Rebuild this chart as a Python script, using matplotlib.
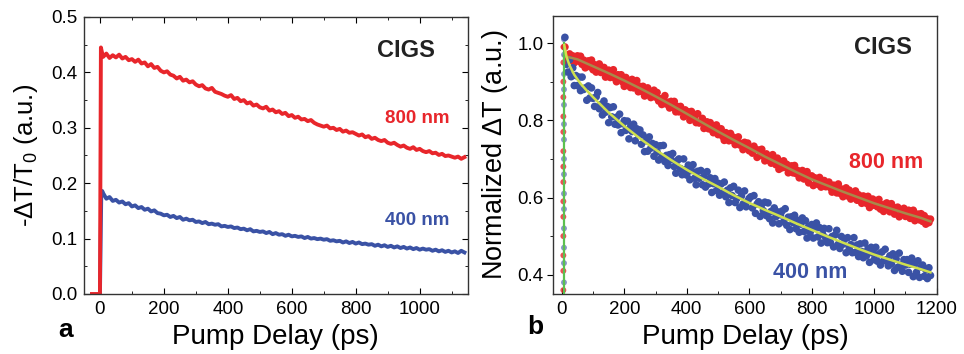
import numpy as np
import matplotlib
matplotlib.use("Agg")
import matplotlib.pyplot as plt
from matplotlib.ticker import MultipleLocator

plt.rcParams['font.family'] = ['Liberation Sans', 'DejaVu Sans']
plt.rcParams['mathtext.fontset'] = 'custom'
plt.rcParams['mathtext.rm'] = 'Liberation Sans'
plt.rcParams['mathtext.it'] = 'Liberation Sans'

RED = '#e8262b'
BLUE = '#3a52a5'

# ---------------- panel a: raw transient transmission ----------------
a_step = 10
a_start = 10
a_rise_time_800 = [-25, -15, -5, 0, 3, 6]
a_rise_800 = [0.0, 0.0, 0.0, 0.0, 0.445, 0.437]
a_sig_800 = [0.428, 0.434, 0.426, 0.431, 0.427, 0.432, 0.425, 0.428, 0.422, 0.424,
             0.419, 0.423, 0.416, 0.418, 0.411, 0.415, 0.408, 0.410, 0.403, 0.400,
             0.402, 0.396, 0.394, 0.389, 0.392, 0.385, 0.387, 0.382, 0.384, 0.378,
             0.375, 0.377, 0.371, 0.369, 0.372, 0.365, 0.363, 0.361, 0.358, 0.356,
             0.359, 0.352, 0.354, 0.348, 0.350, 0.344, 0.346, 0.340, 0.342, 0.337,
             0.335, 0.338, 0.331, 0.333, 0.328, 0.330, 0.325, 0.327, 0.321, 0.323,
             0.318, 0.320, 0.315, 0.316, 0.312, 0.314, 0.309, 0.306, 0.304, 0.302,
             0.304, 0.299, 0.300, 0.296, 0.298, 0.293, 0.295, 0.291, 0.292, 0.289,
             0.286, 0.288, 0.283, 0.285, 0.280, 0.282, 0.278, 0.276, 0.278, 0.273,
             0.271, 0.273, 0.269, 0.266, 0.268, 0.264, 0.262, 0.265, 0.260, 0.262,
             0.258, 0.256, 0.258, 0.254, 0.255, 0.251, 0.253, 0.249, 0.250, 0.248,
             0.246, 0.248, 0.244, 0.247]

a_rise_time_400 = [0, 4, 7]
a_rise_400 = [0.0, 0.175, 0.186]
a_sig_400 = [0.182, 0.172, 0.175, 0.168, 0.170, 0.165, 0.167, 0.162, 0.164, 0.158,
             0.160, 0.155, 0.157, 0.152, 0.154, 0.149, 0.151, 0.146, 0.145, 0.142,
             0.143, 0.139, 0.141, 0.137, 0.139, 0.134, 0.136, 0.133, 0.134, 0.130,
             0.131, 0.128, 0.130, 0.126, 0.127, 0.125, 0.126, 0.122, 0.123, 0.121,
             0.122, 0.119, 0.120, 0.117, 0.118, 0.115, 0.117, 0.113, 0.114, 0.112,
             0.113, 0.110, 0.112, 0.108, 0.110, 0.107, 0.108, 0.105, 0.107, 0.104,
             0.105, 0.103, 0.104, 0.101, 0.103, 0.100, 0.101, 0.099, 0.100, 0.098,
             0.099, 0.096, 0.097, 0.095, 0.096, 0.093, 0.095, 0.092, 0.094, 0.091,
             0.093, 0.090, 0.091, 0.089, 0.090, 0.087, 0.089, 0.086, 0.088, 0.085,
             0.087, 0.084, 0.086, 0.083, 0.085, 0.082, 0.084, 0.081, 0.083, 0.080,
             0.082, 0.080, 0.081, 0.078, 0.080, 0.077, 0.079, 0.076, 0.078, 0.075,
             0.077, 0.074, 0.078, 0.075]

a_xticks = [0, 200, 400, 600, 800, 1000]
a_yticks = [0.0, 0.1, 0.2, 0.3, 0.4, 0.5]

# ---------------- panel b: normalized data with fits ----------------
b_step = 5
b_start = 10
b_norm_800 = [0.990, 0.968, 0.956, 0.972, 0.956, 0.967, 0.949, 0.961, 0.967,
              0.953, 0.966, 0.945, 0.956, 0.936, 0.948, 0.954, 0.939, 0.956, 0.931,
              0.944, 0.925, 0.937, 0.946, 0.924, 0.927, 0.937, 0.912, 0.928, 0.930,
              0.911, 0.922, 0.931, 0.909, 0.900, 0.918, 0.909, 0.918, 0.899, 0.888,
              0.911, 0.896, 0.903, 0.885, 0.906, 0.884, 0.891, 0.903, 0.874, 0.888,
              0.875, 0.888, 0.863, 0.878, 0.884, 0.866, 0.859, 0.873, 0.878, 0.860,
              0.872, 0.850, 0.856, 0.841, 0.857, 0.864, 0.842, 0.847, 0.832, 0.849,
              0.834, 0.849, 0.822, 0.836, 0.822, 0.836, 0.826, 0.809, 0.827, 0.814,
              0.822, 0.800, 0.823, 0.806, 0.809, 0.794, 0.817, 0.793, 0.797, 0.805,
              0.779, 0.792, 0.796, 0.778, 0.794, 0.776, 0.768, 0.782, 0.788, 0.763,
              0.774, 0.778, 0.758, 0.748, 0.768, 0.760, 0.747, 0.766, 0.748, 0.756,
              0.737, 0.749, 0.757, 0.736, 0.740, 0.724, 0.743, 0.730, 0.741, 0.721,
              0.729, 0.715, 0.733, 0.725, 0.704, 0.723, 0.709, 0.725, 0.707, 0.695,
              0.713, 0.697, 0.702, 0.689, 0.711, 0.699, 0.685, 0.702, 0.673, 0.692,
              0.677, 0.695, 0.678, 0.686, 0.664, 0.675, 0.682, 0.664, 0.683, 0.662,
              0.670, 0.651, 0.663, 0.670, 0.648, 0.652, 0.667, 0.638, 0.654, 0.656,
              0.631, 0.651, 0.643, 0.634, 0.652, 0.627, 0.640, 0.644, 0.628, 0.630,
              0.640, 0.625, 0.614, 0.632, 0.625, 0.612, 0.635, 0.611, 0.622, 0.602,
              0.617, 0.625, 0.604, 0.619, 0.596, 0.607, 0.600, 0.617, 0.593, 0.607,
              0.596, 0.585, 0.604, 0.599, 0.585, 0.603, 0.574, 0.591, 0.596, 0.580,
              0.592, 0.576, 0.595, 0.570, 0.581, 0.564, 0.583, 0.586, 0.570, 0.563,
              0.584, 0.569, 0.557, 0.573, 0.575, 0.550, 0.567, 0.557, 0.572, 0.551,
              0.563, 0.567, 0.546, 0.551, 0.567, 0.540, 0.553, 0.557, 0.542, 0.558,
              0.538, 0.553, 0.531, 0.545, 0.535, 0.544]
b_norm_400 = [1.015, 0.945, 0.925, 0.957, 0.913, 0.936, 0.890, 0.916, 0.890,
              0.912, 0.877, 0.912, 0.880, 0.884, 0.852, 0.889, 0.858, 0.884, 0.857,
              0.836, 0.861, 0.872, 0.830, 0.841, 0.814, 0.850, 0.821, 0.836, 0.794,
              0.833, 0.809, 0.835, 0.790, 0.808, 0.788, 0.816, 0.768, 0.791, 0.799,
              0.774, 0.798, 0.752, 0.783, 0.771, 0.790, 0.747, 0.778, 0.764, 0.775,
              0.738, 0.762, 0.719, 0.747, 0.720, 0.757, 0.728, 0.740, 0.707, 0.737,
              0.718, 0.697, 0.734, 0.704, 0.735, 0.693, 0.709, 0.683, 0.711, 0.698,
              0.714, 0.680, 0.663, 0.696, 0.700, 0.675, 0.659, 0.700, 0.672, 0.658,
              0.684, 0.646, 0.670, 0.685, 0.650, 0.633, 0.668, 0.650, 0.670, 0.633,
              0.654, 0.627, 0.667, 0.635, 0.651, 0.613, 0.636, 0.649, 0.618, 0.637,
              0.606, 0.635, 0.613, 0.640, 0.602, 0.619, 0.587, 0.625, 0.605, 0.629,
              0.587, 0.597, 0.619, 0.574, 0.604, 0.583, 0.617, 0.576, 0.591, 0.598,
              0.602, 0.573, 0.605, 0.559, 0.583, 0.589, 0.551, 0.582, 0.566, 0.588,
              0.553, 0.586, 0.545, 0.564, 0.534, 0.573, 0.550, 0.563, 0.532, 0.555,
              0.565, 0.537, 0.571, 0.528, 0.549, 0.517, 0.550, 0.535, 0.554, 0.519,
              0.541, 0.510, 0.531, 0.547, 0.512, 0.540, 0.495, 0.525, 0.510, 0.530,
              0.495, 0.521, 0.534, 0.498, 0.522, 0.482, 0.505, 0.520, 0.495, 0.483,
              0.519, 0.483, 0.499, 0.472, 0.503, 0.515, 0.479, 0.468, 0.499, 0.479,
              0.492, 0.457, 0.496, 0.470, 0.478, 0.457, 0.496, 0.458, 0.477, 0.447,
              0.480, 0.460, 0.444, 0.482, 0.449, 0.467, 0.432, 0.471, 0.456, 0.439,
              0.471, 0.435, 0.454, 0.425, 0.459, 0.436, 0.466, 0.439, 0.423, 0.449,
              0.428, 0.454, 0.411, 0.441, 0.419, 0.456, 0.425, 0.409, 0.439, 0.425,
              0.439, 0.406, 0.427, 0.443, 0.395, 0.428, 0.406, 0.436, 0.393, 0.420,
              0.425, 0.396, 0.413, 0.390, 0.418, 0.398]

# points recorded during the rise (t ~ 5 ps)
rise_time = 5
rise_800 = [0.36, 0.41, 0.45, 0.50, 0.55, 0.59, 0.64, 0.68, 0.72, 0.77, 0.81, 0.86, 0.90, 0.95, 0.99]
rise_400 = [0.38, 0.43, 0.47, 0.52, 0.57, 0.61, 0.66, 0.70, 0.75, 0.79, 0.84, 0.88, 0.92, 0.97, 1.01]

fit_time_800 = [15, 50, 100, 150, 200, 250, 300, 350, 400, 450, 500, 550, 600, 650,
                700, 750, 800, 850, 900, 950, 1000, 1050, 1100, 1150, 1180]
fit_800 = [0.965, 0.958, 0.940, 0.922, 0.903, 0.883, 0.862, 0.840, 0.817, 0.794,
           0.771, 0.749, 0.728, 0.706, 0.686, 0.666, 0.647, 0.631, 0.615, 0.600,
           0.585, 0.572, 0.559, 0.547, 0.538]
fit_time_400 = [8, 15, 25, 40, 60, 80, 100, 150, 200, 250, 300, 350, 400, 450, 500,
                550, 600, 650, 700, 750, 800, 850, 900, 950, 1000, 1050, 1100, 1150, 1180]
fit_400 = [0.995, 0.965, 0.942, 0.918, 0.895, 0.877, 0.860, 0.820, 0.785, 0.753,
           0.724, 0.697, 0.672, 0.649, 0.628, 0.606, 0.586, 0.568, 0.551, 0.533,
           0.516, 0.499, 0.483, 0.467, 0.452, 0.439, 0.426, 0.414, 0.406]
fit_rise_time = [8, 8]
fit_rise = [0.35, 1.0]

b_xticks = [0, 200, 400, 600, 800, 1000, 1200]
b_yticks = [0.4, 0.6, 0.8, 1.0]

TICK_FS = 13.5
XLABEL_FS = 20

fig = plt.figure(figsize=(9.64, 3.54), dpi=100)
ax1 = fig.add_axes([0.0871, 0.1695, 0.398, 0.7825])
ax2 = fig.add_axes([0.5737, 0.1695, 0.398, 0.785])

# panel a
a_time_800 = a_rise_time_800 + list(a_start + a_step * np.arange(len(a_sig_800)))
a_time_400 = a_rise_time_400 + list(a_start + a_step * np.arange(len(a_sig_400)))
ax1.plot(a_time_400, a_rise_400 + a_sig_400, color=BLUE, lw=2.8, solid_joinstyle='round')
ax1.plot(a_time_800, a_rise_800 + a_sig_800, color=RED, lw=2.8, solid_joinstyle='round')
ax1.set_xlim(-50, 1150)
ax1.set_ylim(0, 0.5)
ax1.set_xticks(a_xticks)
ax1.set_yticks(a_yticks)
ax1.xaxis.set_minor_locator(MultipleLocator(100))
ax1.yaxis.set_minor_locator(MultipleLocator(0.05))
ax1.tick_params(which='both', direction='in', top=True, right=True, labelsize=TICK_FS, pad=5)
ax1.tick_params(which='major', length=4)
ax1.tick_params(which='minor', length=2.5)
ax1.set_ylabel(r'-$\Delta$T/T$_0$ (a.u.)', fontsize=18.5, va='center')
ax1.set_xlabel('Pump Delay (ps)', fontsize=XLABEL_FS, va='center')
ax1.yaxis.set_label_coords(-0.152, 0.5)
ax1.xaxis.set_label_coords(0.5, -0.155)
ax1.text(958, 0.44, 'CIGS', fontsize=17, fontweight='bold', ha='center', va='center', color='#222222')
ax1.text(993, 0.316, '800 nm', fontsize=13.5, fontweight='bold', ha='center', va='center', color=RED)
ax1.text(993, 0.132, '400 nm', fontsize=13.5, fontweight='bold', ha='center', va='center', color=BLUE)
fig.text(0.068, 0.068, 'a', fontsize=19, fontweight='bold', ha='center', va='center')

# panel b
b_time_800 = b_start + b_step * np.arange(len(b_norm_800))
b_time_400 = b_start + b_step * np.arange(len(b_norm_400))
ms = 30
ax2.scatter(b_time_800, b_norm_800, s=ms, color=RED, edgecolors='none', zorder=2)
ax2.scatter(b_time_400, b_norm_400, s=ms, color=BLUE, edgecolors='none', zorder=2)
ax2.scatter([rise_time] * len(rise_800), rise_800, s=ms * 0.6, color=RED, edgecolors='none', alpha=0.8, zorder=2)
ax2.scatter([rise_time + 2] * len(rise_400), rise_400, s=ms * 0.6, color=BLUE, edgecolors='none', alpha=0.6, zorder=2)
ax2.plot(fit_rise_time, fit_rise, color='#5cc050', lw=1.6, zorder=3)
ax2.plot(fit_time_800, fit_800, color='#a8894a', lw=1.8, zorder=3)
ax2.plot(fit_time_400, fit_400, color='#cfe04c', lw=1.8, zorder=3)
ax2.set_xlim(-28, 1200)
ax2.set_ylim(0.35, 1.07)
ax2.set_xticks(b_xticks)
ax2.set_yticks(b_yticks)
ax2.xaxis.set_minor_locator(MultipleLocator(100))
ax2.yaxis.set_minor_locator(MultipleLocator(0.1))
ax2.tick_params(axis='x', which='both', direction='in', labelsize=TICK_FS, pad=5)
ax2.tick_params(axis='y', which='both', direction='out', labelsize=TICK_FS, pad=3)
ax2.tick_params(which='major', length=4)
ax2.tick_params(which='minor', length=2.5)
ax2.set_ylabel(r'Normalized $\Delta$T (a.u.)', fontsize=19.5, va='center')
ax2.set_xlabel('Pump Delay (ps)', fontsize=XLABEL_FS, va='center')
ax2.yaxis.set_label_coords(-0.151, 0.5)
ax2.xaxis.set_label_coords(0.5, -0.155)
ax2.text(1027, 0.988, 'CIGS', fontsize=17, fontweight='bold', ha='center', va='center', color='#222222')
ax2.text(1037, 0.69, '800 nm', fontsize=15.5, fontweight='bold', ha='center', va='center', color=RED)
ax2.text(794, 0.406, '400 nm', fontsize=15.5, fontweight='bold', ha='center', va='center', color=BLUE)
fig.text(0.555, 0.075, 'b', fontsize=19, fontweight='bold', ha='center', va='center')

for ax in (ax1, ax2):
    for sp in ax.spines.values():
        sp.set_linewidth(1.0)
        sp.set_color('#333333')

fig.savefig('out.png', dpi=100)
